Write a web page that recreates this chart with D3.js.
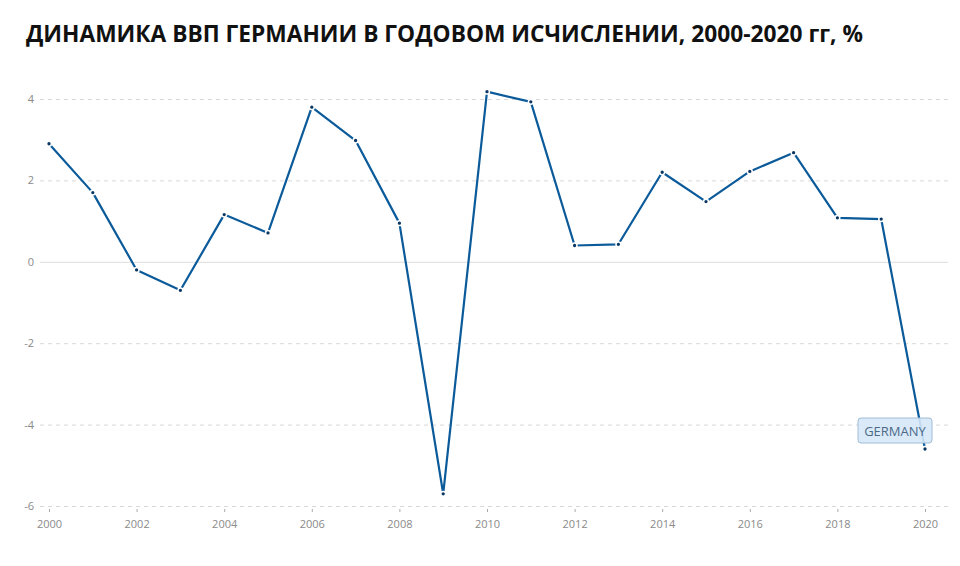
<!DOCTYPE html>
<html>
<head>
<meta charset="utf-8">
<script src="https://cdn.jsdelivr.net/npm/d3@7"></script>
<style>
  body { margin: 0; background: #fff; }
  svg { display: block; }
</style>
</head>
<body>
<script>
var w = 960;
var h = 566;

// Data: German GDP growth, %
var years = [2000, 2001, 2002, 2003, 2004, 2005, 2006, 2007, 2008, 2009, 2010,
             2011, 2012, 2013, 2014, 2015, 2016, 2017, 2018, 2019, 2020];
var values = [2.9, 1.7, -0.2, -0.7, 1.16, 0.71, 3.8, 2.98, 0.95, -5.7, 4.18,
              3.93, 0.4, 0.43, 2.2, 1.48, 2.22, 2.68, 1.08, 1.05, -4.6];
var yTicks = [-6, -4, -2, 0, 2, 4];
var xTicks = [2000, 2002, 2004, 2006, 2008, 2010, 2012, 2014, 2016, 2018, 2020];
var seriesName = "GERMANY";
var title = "ДИНАМИКА ВВП ГЕРМАНИИ В ГОДОВОМ ИСЧИСЛЕНИИ, 2000-2020 гг, %";

var xScale = d3.scaleLinear()
    .domain([2000, 2020])
    .range([49, 925]);

var yScale = d3.scaleLinear()
    .domain([-6, 4])
    .range([506, 99]);

var svg = d3.select("body")
    .append("svg")
    .attr("width", w)
    .attr("height", h);

// Title
svg.append("text")
    .attr("x", 26)
    .attr("y", 42)
    .attr("font-family", "'Open Sans', sans-serif")
    .attr("font-weight", "bold")
    .attr("font-size", 23)
    .attr("fill", "#111")
    .attr("textLength", 837)
    .attr("lengthAdjust", "spacingAndGlyphs")
    .text(title);

// Gridlines (zero line solid, others dashed)
svg.append("g")
    .selectAll("line")
    .data(yTicks)
    .join("line")
    .attr("x1", 40)
    .attr("x2", 948)
    .attr("y1", function(d) { return yScale(d) + 0.5; })
    .attr("y2", function(d) { return yScale(d) + 0.5; })
    .attr("stroke", function(d) { return d === 0 ? "#dcdcdc" : "#d8d8d8"; })
    .attr("stroke-dasharray", function(d) { return d === 0 ? null : "4,4"; });

// Y axis labels
svg.append("g")
    .selectAll("text")
    .data(yTicks)
    .join("text")
    .attr("x", 34)
    .attr("y", function(d) { return yScale(d) + 4; })
    .attr("text-anchor", "end")
    .attr("font-family", "'Open Sans', sans-serif")
    .attr("font-size", 11)
    .attr("fill", "#8a8a8a")
    .text(function(d) { return d; });

// X axis ticks + labels
var xAxis = d3.axisBottom(xScale)
    .tickValues(xTicks)
    .tickFormat(d3.format("d"))
    .tickSize(3)
    .tickPadding(8);

var gx = svg.append("g")
    .attr("transform", "translate(0,509)")
    .call(xAxis);
gx.select(".domain").remove();
gx.selectAll(".tick line").attr("stroke", "#aaa");
gx.selectAll(".tick text")
    .attr("font-family", "'Open Sans', sans-serif")
    .attr("font-size", 11)
    .attr("fill", "#8a8a8a");

// Line
var line = d3.line()
    .x(function(d, i) { return xScale(years[i]); })
    .y(function(d) { return yScale(d); });

svg.append("path")
    .datum(values)
    .attr("d", line)
    .attr("fill", "none")
    .attr("stroke", "#0b5a9a")
    .attr("stroke-width", 2.2)
    .attr("stroke-linejoin", "round");

// Points
svg.append("g")
    .selectAll("circle")
    .data(values)
    .join("circle")
    .attr("cx", function(d, i) { return xScale(years[i]); })
    .attr("cy", function(d) { return yScale(d); })
    .attr("r", 2.4)
    .attr("fill", "#0a3663")
    .attr("stroke", "#fff")
    .attr("stroke-width", 1.5);

// Series label near the last point
var lastX = xScale(years[years.length - 1]);
var lastY = yScale(values[values.length - 1]);
var label = svg.append("g")
    .attr("transform", "translate(" + (lastX - 67) + "," + (lastY - 31) + ")");
label.append("rect")
    .attr("width", 74)
    .attr("height", 25)
    .attr("rx", 3)
    .attr("fill", "rgba(214,232,248,0.9)")
    .attr("stroke", "#9fbcd8");
label.append("text")
    .attr("x", 37)
    .attr("y", 17.5)
    .attr("text-anchor", "middle")
    .attr("font-family", "'Open Sans', sans-serif")
    .attr("font-size", 13)
    .attr("fill", "#4c6a88")
    .text(seriesName);
</script>
</body>
</html>
